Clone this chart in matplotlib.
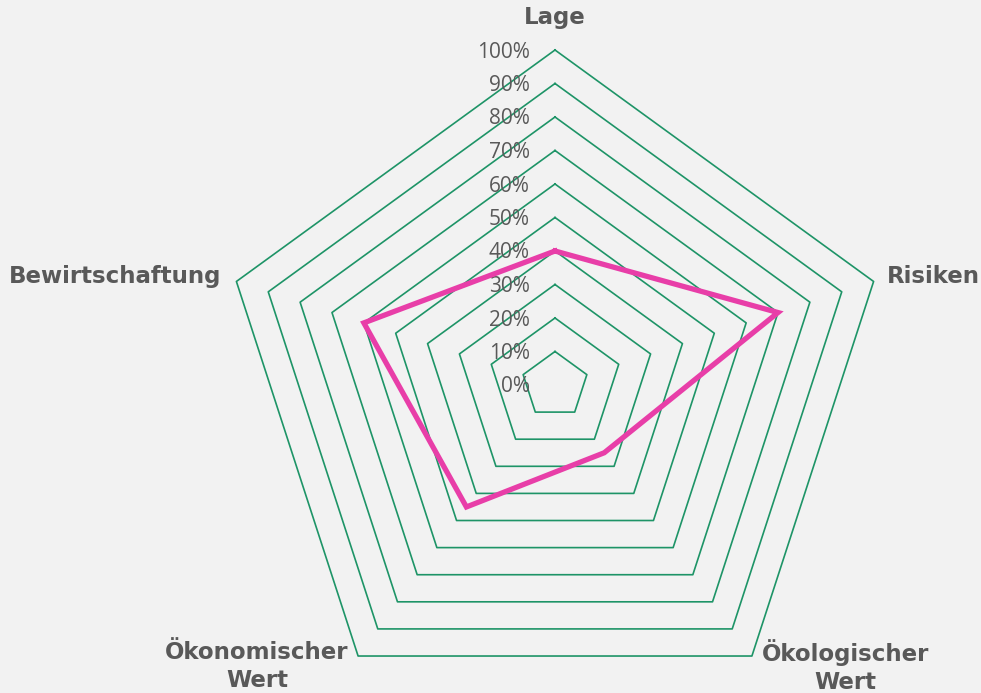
import numpy as np
import matplotlib.pyplot as plt

categories = ['Lage', 'Risiken', 'Ökologischer\nWert', 'Ökonomischer\nWert', 'Bewirtschaftung']
values = [0.40, 0.70, 0.25, 0.45, 0.60]
levels = [0.1, 0.2, 0.3, 0.4, 0.5, 0.6, 0.7, 0.8, 0.9, 1.0]
tick_labels = ['0%', '10%', '20%', '30%', '40%', '50%', '60%', '70%', '80%', '90%', '100%']

bg = '#F2F2F2'
green = '#1E9467'
pink = '#E83EA8'
grey = '#595959'

n = len(categories)
ang = np.pi / 2 - np.arange(n) * 2 * np.pi / n
ang_c = np.append(ang, ang[0])

fig = plt.figure(figsize=(9.81, 6.93), dpi=100, facecolor=bg)
ax = fig.add_axes([0, 0, 1, 1])
ax.set_facecolor(bg)
R = 335.0
ax.set_xlim(-555 / R, (981 - 555) / R)
ax.set_ylim(-(693 - 385) / R, 385 / R)
ax.axis('off')

# pentagon grid rings
for lv in levels:
    ax.plot(lv * np.cos(ang_c), lv * np.sin(ang_c), color=green, lw=1.2, zorder=1)

v = np.append(values, values[0])
ax.plot(v * np.cos(ang_c), v * np.sin(ang_c), color=pink, lw=3.8,
        solid_joinstyle='miter', zorder=3)

for i, t in enumerate(tick_labels):
    ax.text(-25 / R, i / 10 - 2 / R, t, ha='right', va='center', fontsize=15,
            color=grey, family='Open Sans', zorder=2)

lab_pos = [(0, 1.096, 'center'),
           (0.99, 0.325, 'left'),
           (0.868, -0.84, 'center'),
           (-0.89, -0.84, 'center'),
           (-0.997, 0.325, 'right')]
for c, (x, y, ha) in zip(categories, lab_pos):
    ax.text(x, y, c, ha=ha, va='center', fontsize=16.5, fontweight='bold', color=grey,
            family='DejaVu Sans', linespacing=1.3)

fig.savefig('out.png', dpi=100, facecolor=bg)
